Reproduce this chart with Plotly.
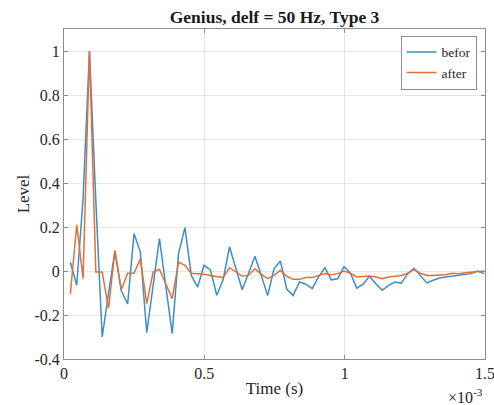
import numpy as np
import plotly.graph_objects as go

fs = 44100.0
sample_index = list(range(1, 67))

before = [0.04, -0.065, 0.33, 1.0, 0.32, -0.30, -0.10, 0.09, -0.09, -0.15,
          0.17, 0.086, -0.28, -0.07, 0.147, -0.07, -0.285, 0.08, 0.197, -0.02,
          -0.073, 0.026, 0.005, -0.11, -0.04, 0.11, 0.01, -0.085, -0.01, 0.067,
          -0.02, -0.112, 0.01, 0.045, -0.082, -0.112, -0.05, -0.06, -0.08, -0.027,
          0.015, -0.04, -0.035, 0.02, -0.01, -0.078, -0.06, -0.024, -0.058, -0.088,
          -0.065, -0.05, -0.055, -0.012, 0.012, -0.02, -0.054, -0.042, -0.032, -0.027,
          -0.024, -0.021, -0.018, -0.012, 0.0, -0.012]

after = [-0.104, 0.21, -0.035, 1.0, -0.005, -0.005, -0.17, 0.094, -0.085, -0.01,
         -0.01, 0.056, -0.148, -0.005, 0.008, -0.058, -0.126, 0.04, 0.026, -0.01,
         -0.012, -0.015, -0.02, -0.025, -0.03, 0.015, -0.005, -0.023, -0.02, 0.01,
         -0.015, -0.035, -0.02, 0.003, -0.024, -0.038, -0.038, -0.03, -0.03, -0.022,
         -0.012, -0.017, -0.012, 0.0, -0.01, -0.027, -0.024, -0.023, -0.027, -0.035,
         -0.027, -0.023, -0.02, -0.01, 0.006, -0.01, -0.02, -0.02, -0.017, -0.017,
         -0.01, -0.012, -0.008, -0.005, 0.0, 0.0]

t = [n / fs for n in sample_index]

x_tickvals = [0, 0.5e-3, 1e-3, 1.5e-3]
x_ticktext = ["0", "0.5", "1", "1.5"]
y_tickvals = [-0.4, -0.2, 0, 0.2, 0.4, 0.6, 0.8, 1]
y_ticktext = ["-0.4", "-0.2", "0", "0.2", "0.4", "0.6", "0.8", "1"]

serif = "Liberation Serif"

fig = go.Figure()
fig.add_trace(go.Scatter(x=t, y=before, mode="lines", name="befor",
                         line=dict(color="#3a8fc8", width=1.5)))
fig.add_trace(go.Scatter(x=t, y=after, mode="lines", name="after",
                         line=dict(color="#e0703a", width=1.5)))

axis_common = dict(showline=True, linecolor="#8c8c8c", linewidth=1, mirror="ticks",
                   ticks="inside", ticklen=4, tickcolor="#8c8c8c",
                   showgrid=True, gridcolor="#e6e6e6", gridwidth=1, zeroline=False,
                   automargin=False, ticklabeloverflow="allow",
                   tickfont=dict(family=serif, size=16, color="#262626"))

fig.update_layout(
    width=494, height=405,
    margin=dict(l=64, r=9, t=29, b=46),
    paper_bgcolor="white", plot_bgcolor="white",
    title=dict(text="<b>Genius, delf = 50 Hz, Type 3</b>", x=0.5, xref="paper",
               y=0.958, yref="container", xanchor="center", yanchor="middle",
               font=dict(family=serif, size=17.5, color="#1a1a1a")),
    xaxis=dict(range=[0, 1.5e-3], tickvals=x_tickvals, ticktext=x_ticktext,
               title=dict(text="Time (s)", font=dict(family=serif, size=17, color="#262626"),
                          standoff=0),
               **axis_common),
    yaxis=dict(range=[-0.4, 1.1], tickvals=y_tickvals, ticktext=y_ticktext,
               title=dict(text="Level", font=dict(family=serif, size=17, color="#262626"),
                          standoff=0),
               **axis_common),
    legend=dict(x=0.98, y=0.98, xanchor="right", yanchor="top",
                bgcolor="white", bordercolor="#8c8c8c", borderwidth=1,
                font=dict(family=serif, size=13.5, color="#262626"),
                tracegroupgap=0, itemwidth=30),
    showlegend=True,
)

fig.add_annotation(text="\u00d710<sup>-3</sup>", xref="paper", yref="paper",
                   x=1.0, y=-0.112, xanchor="right", yanchor="middle", showarrow=False,
                   font=dict(family=serif, size=16, color="#262626"))

fig.write_html("out.html", config={"displayModeBar": False},
               post_script="document.body.style.margin='0';document.body.style.padding='0';")
